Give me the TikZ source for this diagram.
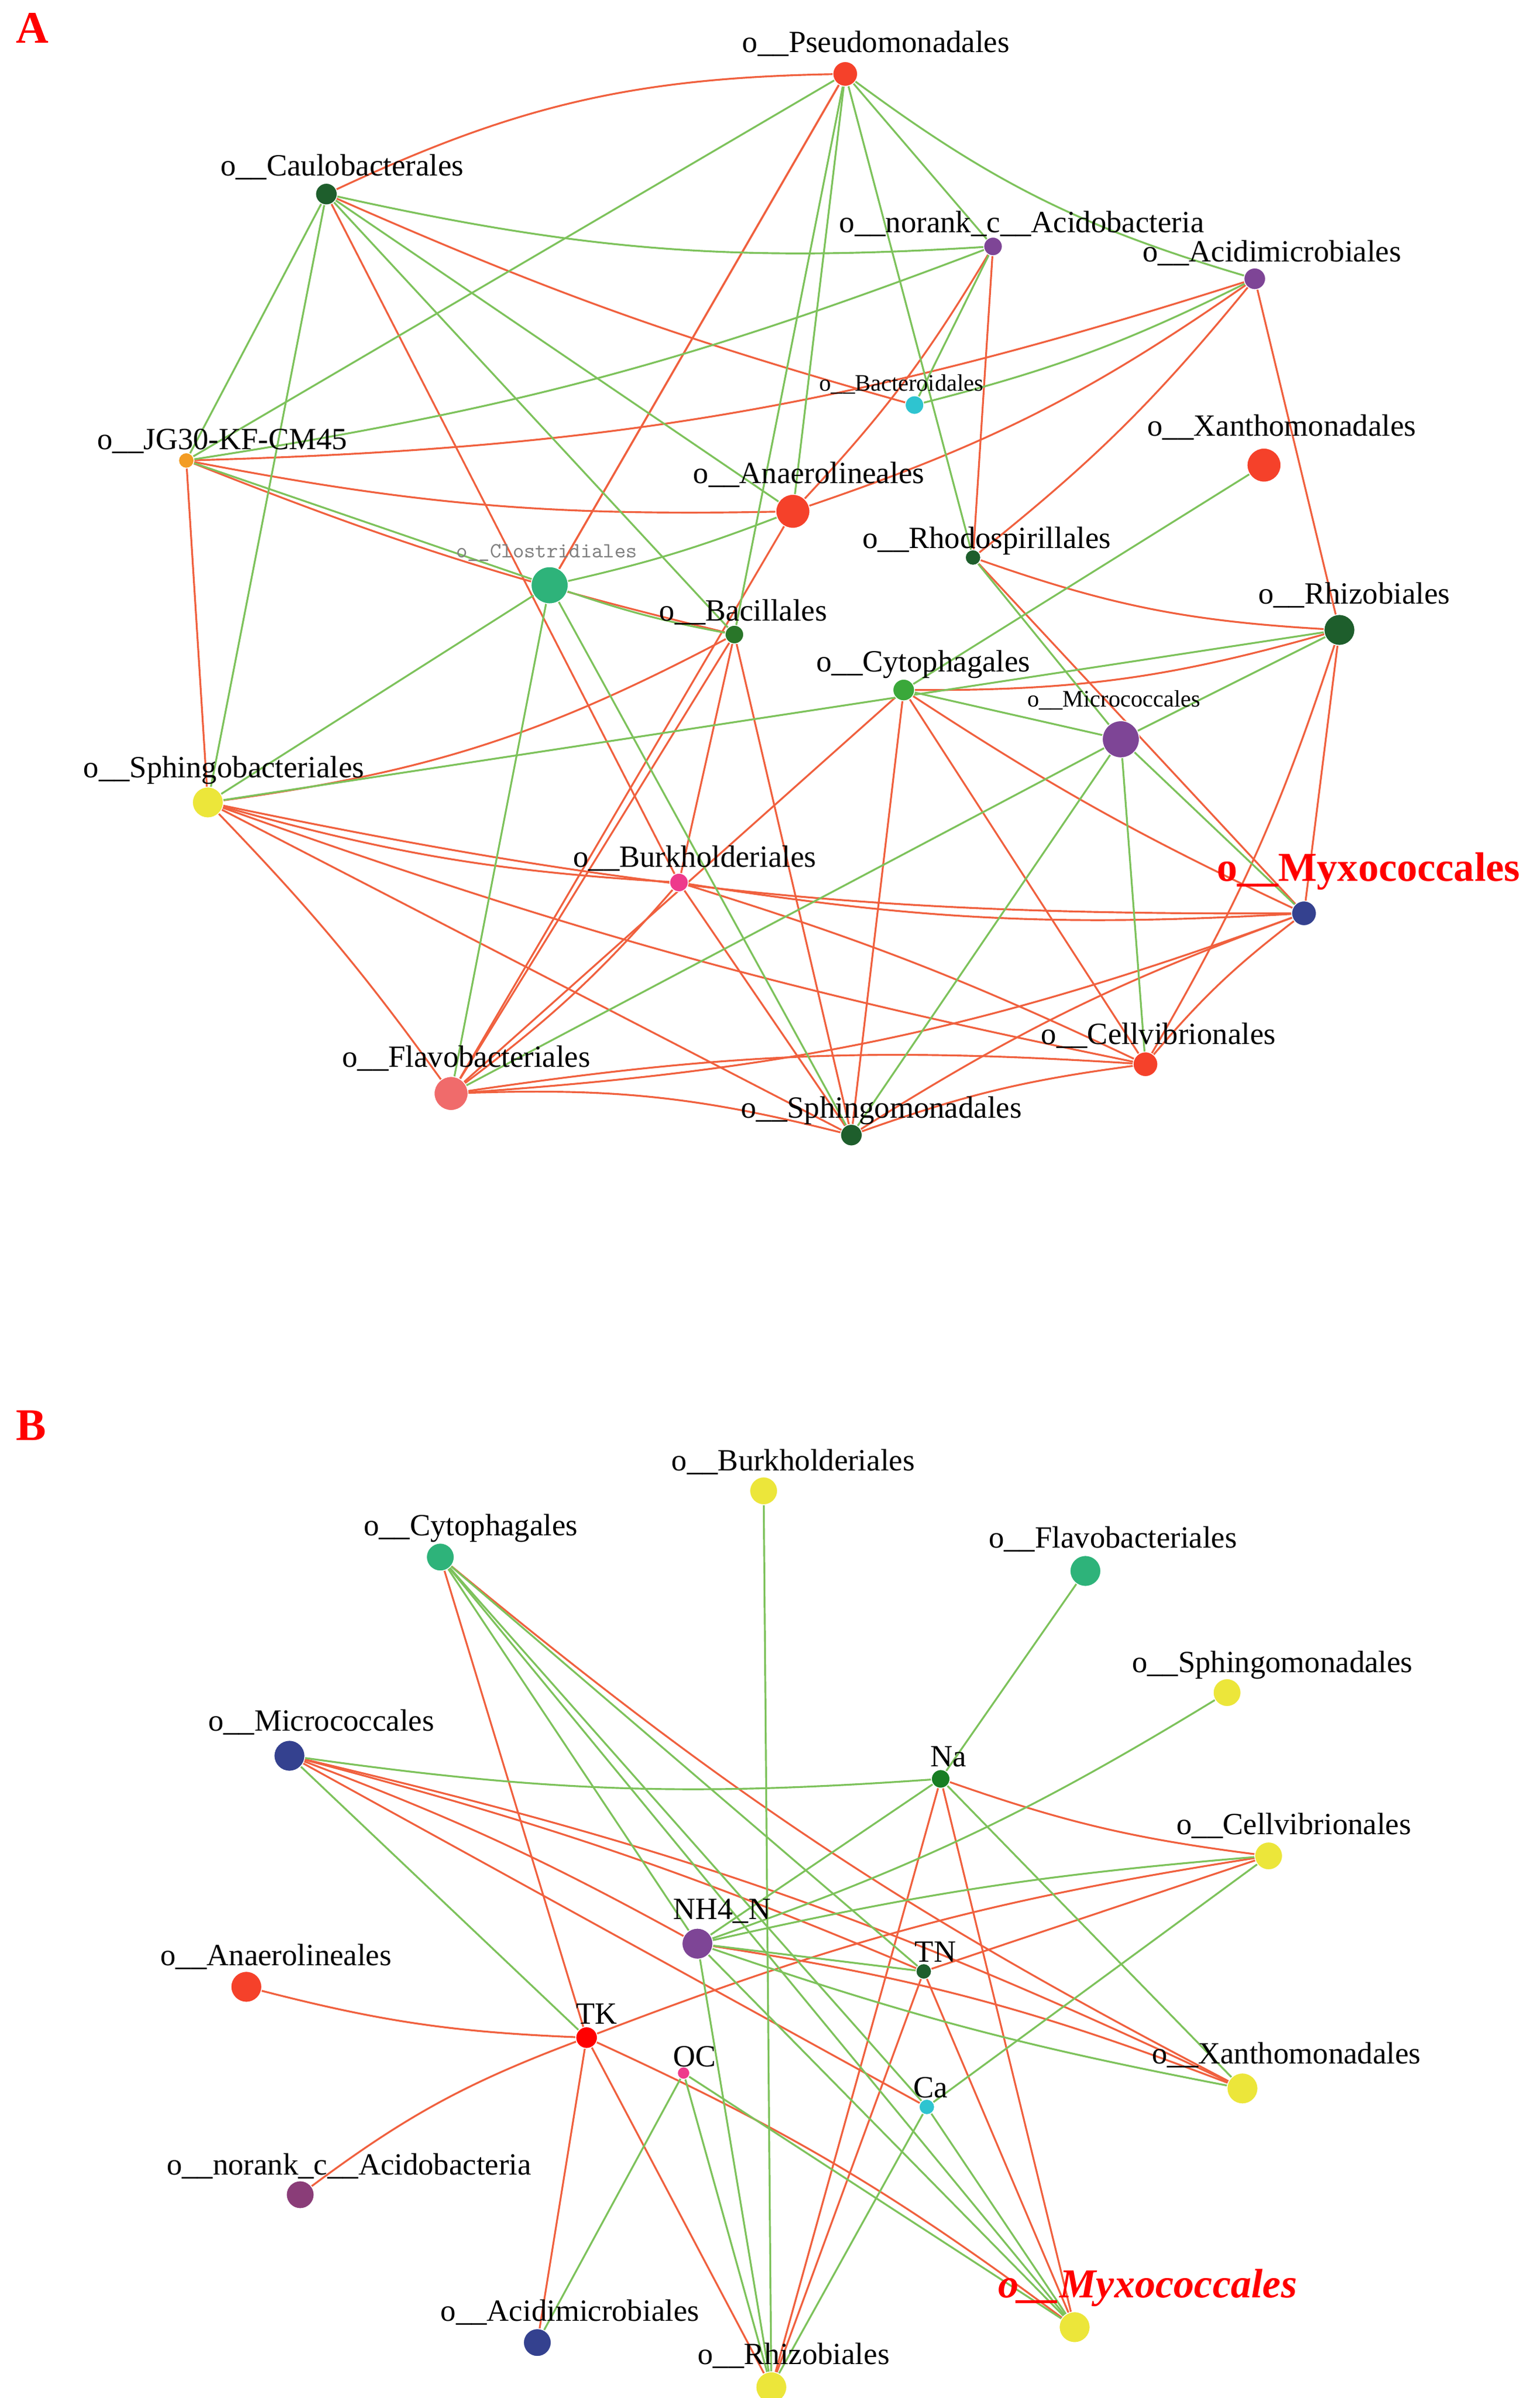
\documentclass[tikz,border=0pt]{standalone}
\usepackage{fontspec}
\setmainfont{Liberation Serif}
\usetikzlibrary{backgrounds}
\definecolor{er}{HTML}{F0603E}
\definecolor{eg}{HTML}{7DC25B}
\definecolor{cR}{HTML}{F5412A}
\definecolor{cDG}{HTML}{1E5E2C}
\definecolor{cP}{HTML}{7E4596}
\definecolor{cC}{HTML}{2EC4D0}
\definecolor{cO}{HTML}{F39C24}
\definecolor{cG}{HTML}{3CB86A}
\definecolor{cLG}{HTML}{3AA83A}
\definecolor{cY}{HTML}{ECE63A}
\definecolor{cPk}{HTML}{EE3A8C}
\definecolor{cB}{HTML}{34418F}
\definecolor{cS}{HTML}{F06B6B}
\definecolor{cBG}{HTML}{2EB37A}
\definecolor{cPl}{HTML}{8A3D78}
\tikzset{
 nd/.style={circle,inner sep=0pt,draw=white,line width=0.4pt,minimum size=#1*0.05266cm},
 lb/.style={anchor=base west,inner sep=0pt,font=\fontsize{15}{17}\selectfont},
 ls/.style={anchor=base west,inner sep=0pt,font=\fontsize{11.5}{13}\selectfont},
 lm/.style={anchor=base west,inner sep=0pt,text=red,font=\fontsize{20}{22}\selectfont\bfseries},
 r/.style={draw=er,line width=0.9pt},
 g/.style={draw=eg,line width=0.9pt},
 pl/.style={anchor=base west,inner sep=0pt,text=red,font=\fontsize{22}{24}\selectfont\bfseries}
}
\begin{document}
\begin{tikzpicture}[x=0.02633cm,y=-0.02633cm]
\useasboundingbox (0,0) rectangle (1000,1557);
\node[pl] (pA) at (10,28) {A};
\node[pl] (pB) at (10,935) {B};
% panel A nodes
\node[nd=8,fill=cR] (aP) at (549,48) {};
\node[nd=7,fill=cDG] (aC) at (212,126) {};
\node[nd=6,fill=cP] (aN) at (645,160) {};
\node[nd=7,fill=cP] (aAc) at (815,181) {};
\node[nd=6,fill=cC] (aBa) at (594,263) {};
\node[nd=5,fill=cO] (aJ) at (121,299) {};
\node[nd=11,fill=cR] (aX) at (821,302) {};
\node[nd=11,fill=cR] (aAn) at (515,332) {};
\node[nd=5,fill=cDG] (aR) at (632,362) {};
\node[nd=12,fill=cBG] (aCl) at (357,380) {};
\node[nd=10,fill=cDG] (aRh) at (870,409) {};
\node[nd=6,fill=cLG!70!black] (aB) at (477,412) {};
\node[nd=7,fill=cLG] (aCy) at (587,448) {};
\node[nd=12,fill=cP] (aM) at (728,480) {};
\node[nd=10,fill=cY] (aS) at (135,521) {};
\node[nd=6,fill=cPk] (aBu) at (441,573) {};
\node[nd=8,fill=cB] (aMy) at (847,593) {};
\node[nd=8,fill=cR] (aCe) at (744,691) {};
\node[nd=11,fill=cS] (aF) at (293,710) {};
\node[nd=7,fill=cDG] (aSm) at (553,737) {};
% panel A labels
\node[lb] (laP) at (482,34) {o\_\_Pseudomonadales};
\node[lb] (laC) at (143,114) {o\_\_Caulobacterales};
\node[lb] (laN) at (545,151) {o\_\_norank\_c\_\_Acidobacteria};
\node[lb] (laAc) at (742,170) {o\_\_Acidimicrobiales};
\node[ls] (laBa) at (532,254) {o\_\_Bacteroidales};
\node[lb] (laJ) at (63,292) {o\_\_JG30-KF-CM45};
\node[lb] (laX) at (745,283) {o\_\_Xanthomonadales};
\node[lb] (laAn) at (450,314) {o\_\_Anaerolineales};
\node[lb] (laR) at (560,356) {o\_\_Rhodospirillales};
\node[ls,font=\ttfamily\fontsize{10.5}{12}\selectfont,text=gray] (laCl) at (296,362) {o\_\_Clostridiales};
\node[lb] (laRh) at (817,392) {o\_\_Rhizobiales};
\node[lb] (laB) at (428,403) {o\_\_Bacillales};
\node[lb] (laCy) at (530,436) {o\_\_Cytophagales};
\node[ls] (laM) at (667,459) {o\_\_Micrococcales};
\node[lb] (laS) at (54,505) {o\_\_Sphingobacteriales};
\node[lb] (laBu) at (372,563) {o\_\_Burkholderiales};
\node[lm] (laMy) at (790,572) {o\_\_Myxococcales};
\node[lb] (laCe) at (676,678) {o\_\_Cellvibrionales};
\node[lb] (laF) at (222,693) {o\_\_Flavobacteriales};
\node[lb] (laSm) at (481,726) {o\_\_Sphingomonadales};
% panel B nodes
\node[nd=9,fill=cY] (bBu) at (496,968) {};
\node[nd=9,fill=cBG] (bCy) at (286,1011) {};
\node[nd=10,fill=cBG] (bF) at (705,1020) {};
\node[nd=9,fill=cY] (bSm) at (797,1099) {};
\node[nd=10,fill=cB] (bM) at (188,1140) {};
\node[nd=6,fill=cDG!80!green] (bNa) at (611,1155) {};
\node[nd=9,fill=cY] (bCe) at (824,1205) {};
\node[nd=10,fill=cP] (bNH) at (453,1262) {};
\node[nd=5,fill=cDG] (bTN) at (600,1280) {};
\node[nd=10,fill=cR] (bAn) at (160,1290) {};
\node[nd=7,fill=red] (bTK) at (381,1323) {};
\node[nd=4,fill=cPk] (bOC) at (444,1346) {};
\node[nd=5,fill=cC] (bCa) at (602,1368) {};
\node[nd=10,fill=cY] (bX) at (807,1356) {};
\node[nd=9,fill=cPl] (bN) at (195,1425) {};
\node[nd=10,fill=cY] (bMy) at (698,1511) {};
\node[nd=9,fill=cB] (bAc) at (349,1521) {};
\node[nd=10,fill=cY] (bRh) at (501,1550) {};
% panel B labels
\node[lb] (lbBu) at (436,955) {o\_\_Burkholderiales};
\node[lb] (lbCy) at (236,997) {o\_\_Cytophagales};
\node[lb] (lbF) at (642,1005) {o\_\_Flavobacteriales};
\node[lb] (lbSm) at (735,1086) {o\_\_Sphingomonadales};
\node[lb] (lbM) at (135,1124) {o\_\_Micrococcales};
\node[lb] (lbNa) at (604,1147) {Na};
\node[lb] (lbCe) at (764,1191) {o\_\_Cellvibrionales};
\node[lb] (lbNH) at (437,1246) {NH4\_N};
\node[lb] (lbTN) at (594,1274) {TN};
\node[lb] (lbAn) at (104,1276) {o\_\_Anaerolineales};
\node[lb] (lbTK) at (374,1314) {TK};
\node[lb] (lbOC) at (437,1342) {OC};
\node[lb] (lbCa) at (593,1362) {Ca};
\node[lb] (lbX) at (748,1340) {o\_\_Xanthomonadales};
\node[lb] (lbN) at (108,1412) {o\_\_norank\_c\_\_Acidobacteria};
\node[lm,font=\fontsize{20}{22}\selectfont\bfseries\itshape] (lbMy) at (648,1492) {o\_\_Myxococcales};
\node[lb] (lbAc) at (286,1507) {o\_\_Acidimicrobiales};
\node[lb] (lbRh) at (453,1535) {o\_\_Rhizobiales};
\begin{scope}[on background layer]
\fill[white] (0,0) rectangle (1000,1557);
\foreach \a/\b/\k in {aP/aC/-12,aP/aCl/0,aC/aBa/-4,aC/aBu/0,aJ/aAc/-8,aJ/aAn/-6,aJ/aB/-4,aJ/aS/0,
 aAc/aAn/8,aAc/aRh/0,aAc/aR/6,aN/aAn/6,aN/aR/0,aCl/aP/0,aB/aS/10,aB/aBu/0,aB/aSm/0,aB/aF/0,
 aR/aRh/-8,aR/aMy/0,aCy/aRh/-8,aCy/aMy/-4,aCy/aCe/0,aCy/aF/0,aCy/aSm/0,aRh/aMy/0,aRh/aCe/6,
 aS/aBu/-6,aS/aMy/-6,aS/aCe/-4,aS/aSm/0,aS/aF/4,aBu/aMy/-6,aBu/aF/6,aBu/aSm/0,aBu/aCe/4,
 aMy/aF/8,aMy/aSm/-6,aMy/aCe/-6,aF/aSm/8,aF/aCe/6,aSm/aCe/6,aF/aAn/0}
 \draw[r] (\a) to[bend left=\k] (\b);
\foreach \a/\b/\k in {aP/aAc/-10,aP/aN/0,aP/aJ/0,aP/aB/0,aP/aAn/0,aP/aR/0,aC/aN/-8,aC/aAn/0,aC/aB/0,aC/aJ/0,aC/aS/0,
 aJ/aN/-6,aJ/aCl/0,aAc/aBa/6,aN/aBa/0,aCl/aAn/-4,aCl/aB/-4,aCl/aS/0,aCl/aF/0,aCl/aSm/0,
 aX/aCy/0,aR/aM/0,aCy/aM/0,aM/aRh/0,aM/aMy/0,aM/aCe/0,aM/aSm/0,aM/aF/0,aRh/aS/0}
 \draw[g] (\a) to[bend left=\k] (\b);
\foreach \a/\b/\k in {bCy/bTK/0,bCy/bX/-6,bM/bNH/4,bM/bTN/4,bM/bX/6,bM/bCa/0,bNa/bCe/-6,bNa/bRh/0,bNa/bMy/0,
 bCe/bTN/0,bCe/bTK/-6,bNH/bX/6,bTN/bRh/0,bTN/bMy/0,bAn/bTK/-6,bTK/bN/-8,bTK/bRh/0,bTK/bMy/6,bTK/bAc/0}
 \draw[r] (\a) to[bend left=\k] (\b);
\foreach \a/\b/\k in {bBu/bRh/0,bF/bNa/0,bSm/bNH/6,bCy/bNH/0,bCy/bTN/0,bCy/bCa/0,bCy/bMy/0,bM/bNa/-6,bM/bTK/0,
 bNa/bX/0,bNa/bNH/0,bCe/bNH/-4,bNH/bTN/0,bNH/bMy/0,bNH/bRh/0,bNH/bX/-4,bOC/bAc/0,bOC/bRh/0,bOC/bMy/0,
 bCa/bRh/0,bCa/bMy/0,bCa/bCe/0}
 \draw[g] (\a) to[bend left=\k] (\b);
\end{scope}
\end{tikzpicture}
\end{document}
